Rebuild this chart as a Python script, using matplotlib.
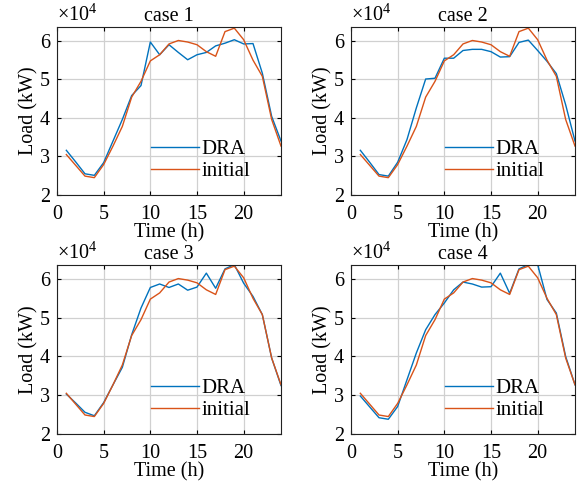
import matplotlib
matplotlib.use('Agg')
import matplotlib.pyplot as plt
import numpy as np

plt.rcParams['font.family'] = ['Liberation Serif', 'DejaVu Serif']
plt.rcParams['mathtext.fontset'] = 'custom'
plt.rcParams['mathtext.rm'] = 'Liberation Serif'
plt.rcParams['font.size'] = 14.5

hours = list(range(1, 25))

# initial load (kW), same in every case
initial = [30500, 27700, 24900, 24500, 27900, 32700, 37800, 45400, 49500, 54800,
           56400, 59200, 60100, 59700, 59000, 57200, 56000, 62400, 63300, 60300,
           55000, 50800, 39600, 32700]

dra_case1 = [31600, 28600, 25500, 25100, 28400, 34000, 39600, 45800, 48400, 59700,
             56400, 59000, 57000, 55100, 56400, 57000, 58700, 59400, 60300, 59200,
             59300, 51600, 40400, 34000]
dra_case2 = [31600, 28500, 25300, 24900, 28500, 34400, 42600, 50100, 50300, 55500,
             55500, 57500, 57800, 57800, 57200, 55800, 55900, 59600, 60200, 57500,
             54700, 51500, 43400, 34000]
dra_case3 = [30300, 28000, 25600, 24700, 28100, 32700, 37200, 45600, 52500, 57800,
             58700, 57800, 58700, 57100, 57900, 61500, 57600, 62600, 63700, 58900,
             55500, 50800, 39600, 32500]
dra_case4 = [29800, 27000, 24200, 23800, 27100, 34000, 40900, 46900, 50800, 53800,
             57200, 59200, 58700, 57900, 58000, 61500, 56300, 62600, 63700, 63700,
             54700, 51200, 40000, 32700]

dra_all = [dra_case1, dra_case2, dra_case3, dra_case4]
titles = ['case 1', 'case 2', 'case 3', 'case 4']

W, H = 580, 483
fig = plt.figure(figsize=(W / 100, H / 100), dpi=100)

# axes boxes in pixels: left, top, right, bottom
boxes = [(57, 27, 281, 195), (351, 27, 575, 195),
         (57, 265, 281, 434), (351, 265, 575, 434)]

for i in range(4):
    l, t, r, b = boxes[i]
    ax = fig.add_axes([l / W, 1 - b / H, (r - l) / W, (b - t) / H])
    y_dra = np.array(dra_all[i]) / 1e4
    y_ini = np.array(initial) / 1e4
    ax.plot(hours, y_dra, color='#0072BD', lw=1.0, label='DRA')
    ax.plot(hours, y_ini, color='#D95319', lw=1.0, label='initial')
    ax.set_xlim(0, 24)
    ax.set_ylim(2, 6.36)
    ax.set_xticks([0, 5, 10, 15, 20])
    ax.set_yticks([2, 3, 4, 5, 6])
    ax.grid(True, color='#d0d0d0', lw=0.9)
    ax.set_axisbelow(True)
    ax.tick_params(direction='in', top=True, right=True, length=3, width=0.8,
                   labelsize=14.5)
    ax.tick_params(axis='x', pad=7)
    ax.tick_params(axis='y', pad=5)
    for s in ax.spines.values():
        s.set_linewidth(0.8)
        s.set_color('#222222')
    ax.set_xlabel('Time (h)', fontsize=14.5, labelpad=0)
    ax.set_ylabel('Load (kW)', fontsize=14.5, labelpad=1)
    ax.set_title(titles[i], fontsize=14.5, pad=4)
    ax.text(0.0, 1.01, r'$\times 10^4$', transform=ax.transAxes, fontsize=14.5,
            ha='left', va='bottom')
    ax.legend(loc='lower right', bbox_to_anchor=(0.92, 0.008), frameon=False,
              handlelength=2.3, handletextpad=0.15, labelspacing=0.12,
              fontsize=15, borderaxespad=0.2)

fig.savefig('out.png', dpi=100)
